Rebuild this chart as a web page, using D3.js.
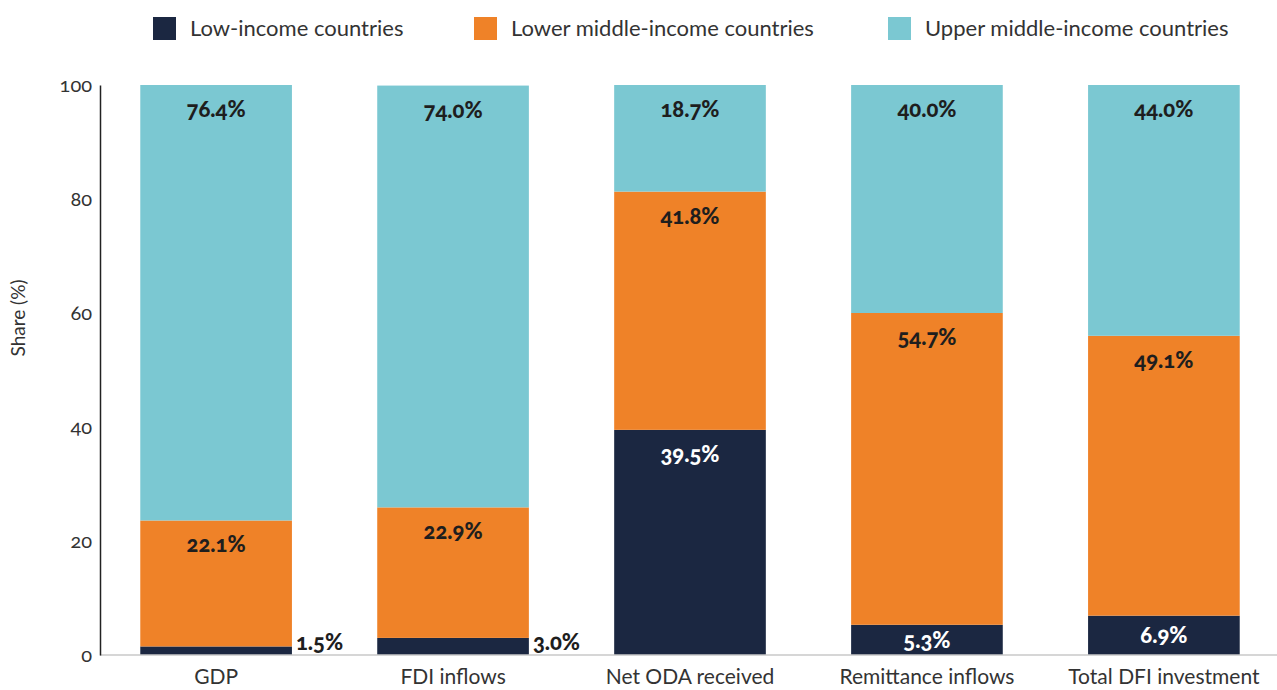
<!DOCTYPE html>
<html>
<head>
<meta charset="utf-8">
<script src="https://cdn.jsdelivr.net/npm/d3@7"></script>
<style>
  body { margin: 0; background: #fff; }
  svg { display: block; font-family: Lato, "Open Sans", sans-serif; }
</style>
</head>
<body>
<svg id="chart" width="1277" height="690"></svg>
<script>
// Share of flows by country income group
const categories = ["GDP", "FDI inflows", "Net ODA received", "Remittance inflows", "Total DFI investment"];
const seriesNames = ["Low-income countries", "Lower middle-income countries", "Upper middle-income countries"];
const lowIncome = [1.5, 3.0, 39.5, 5.3, 6.9];
const lowerMiddle = [22.1, 22.9, 41.8, 54.7, 49.1];
const upperMiddle = [76.4, 74.0, 18.7, 40.0, 44.0];
const yTicks = [0, 20, 40, 60, 80, 100];
const colors = ["#1b2741", "#ef8228", "#7bc8d2"];

const svg = d3.select("#chart");
const margin = { left: 100, right: 0, top: 85, bottom: 35 };
const W = 1277, H = 690;

const x = d3.scaleBand().domain(categories).range([margin.left, 1280])
  .paddingInner(0.36).paddingOuter(0.17);
const y = d3.scaleLinear().domain([0, 100]).range([H - margin.bottom, margin.top]);

const rows = categories.map((c, i) => ({
  cat: c, low: lowIncome[i], lower: lowerMiddle[i], upper: upperMiddle[i]
}));
const stack = d3.stack().keys(["low", "lower", "upper"]);
const layers = stack(rows);

// bars
svg.append("g").selectAll("g").data(layers).join("g")
  .attr("fill", (d, i) => colors[i])
  .selectAll("rect").data(d => d).join("rect")
  .attr("x", d => x(d.data.cat))
  .attr("width", x.bandwidth())
  .attr("y", d => y(Math.min(d[1], 100)))
  .attr("height", d => y(d[0]) - y(Math.min(d[1], 100)));

// baseline
svg.append("line")
  .attr("x1", margin.left).attr("x2", W)
  .attr("y1", y(0)).attr("y2", y(0))
  .attr("stroke", "#c8c8c8").attr("stroke-width", 1.5);

// y axis
const yAxis = d3.axisLeft(y).tickValues(yTicks).tickSize(0).tickPadding(8);
const gy = svg.append("g").attr("transform", `translate(${margin.left},0)`).call(yAxis);
gy.select(".domain").attr("stroke", "#222").attr("stroke-width", 1.5);
gy.selectAll("text")
  .attr("font-size", 20).attr("fill", "#333")
  .style("font-variant-numeric", "oldstyle-nums")
  .style("font-family", "Lato, 'Open Sans', sans-serif");

svg.append("text")
  .attr("transform", `translate(25,318) rotate(-90)`)
  .attr("text-anchor", "middle")
  .attr("font-size", 19).attr("fill", "#333")
  .text("Share (%)");

// x axis labels
const xAxis = d3.axisBottom(x).tickSize(0).tickPadding(14);
const gx = svg.append("g").attr("transform", `translate(0,${y(0)})`).call(xAxis);
gx.select(".domain").remove();
gx.selectAll("text")
  .attr("font-size", 21).attr("fill", "#333")
  .style("font-family", "Lato, 'Open Sans', sans-serif");

// value labels
const fmt = v => v.toFixed(1) + "%";
const labelG = svg.append("g")
  .attr("font-size", 22).attr("font-weight", 900)
  .style("font-variant-numeric", "oldstyle-nums");

layers.forEach((layer, li) => {
  layer.forEach(d => {
    const v = d.data[layer.key];
    const top = y(Math.min(d[1], 100));
    const bottom = y(d[0]);
    const cx = x(d.data.cat) + x.bandwidth() / 2;
    if (li === 0 && v < 4) {
      // small slices labelled beside the bar
      labelG.append("text")
        .attr("x", x(d.data.cat) + x.bandwidth() + 4)
        .attr("y", y(0) - 5)
        .attr("fill", "#1e1e1e")
        .text(fmt(v));
    } else {
      const short = bottom - top < 50;
      labelG.append("text")
        .attr("x", cx)
        .attr("y", short ? (top + bottom) / 2 + 8 : top + 32)
        .attr("text-anchor", "middle")
        .attr("fill", li === 0 ? "#fff" : "#1e1e1e")
        .text(fmt(v));
    }
  });
});

// legend
const legendX = [153, 474, 888];
const lg = svg.append("g");
seriesNames.forEach((name, i) => {
  lg.append("rect").attr("x", legendX[i]).attr("y", 17)
    .attr("width", 23).attr("height", 23).attr("fill", colors[i]);
  lg.append("text").attr("x", legendX[i] + 37).attr("y", 36)
    .attr("font-size", 22).attr("fill", "#333")
    .text(name);
});
</script>
</body>
</html>
